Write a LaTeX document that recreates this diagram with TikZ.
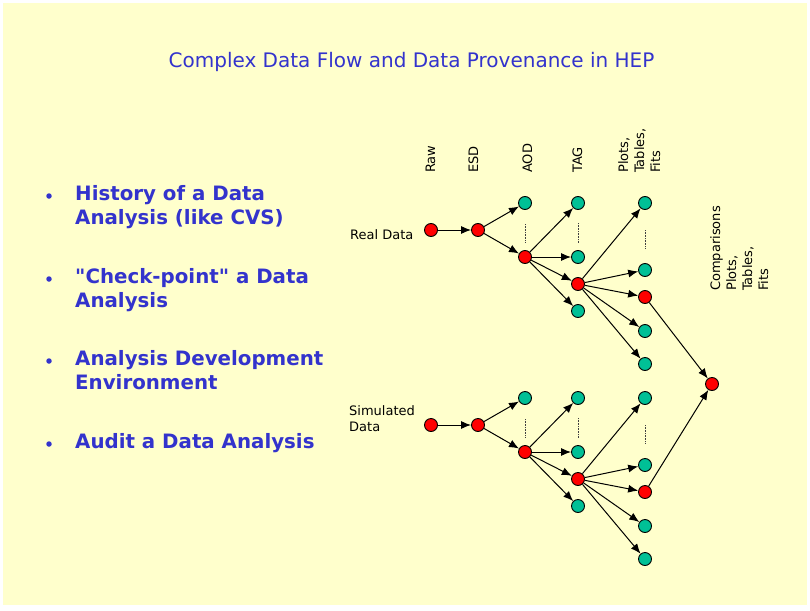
\documentclass[tikz,border=0pt]{standalone}
\usepackage{fontspec}
\setmainfont{DejaVu Sans}[Ligatures=TeXOff]
\usetikzlibrary{arrows.meta}
\definecolor{bgyellow}{RGB}{255,255,204}
\definecolor{txtblue}{RGB}{51,51,204}
\definecolor{nodegreen}{RGB}{0,192,150}
\definecolor{nodered}{RGB}{255,0,0}
\begin{document}
\begin{tikzpicture}[x=1pt,y=-1pt,
  dotnode/.style={circle,draw=black,line width=0.9pt,minimum size=13pt,inner sep=0pt},
  rdot/.style={dotnode,fill=nodered},
  gdot/.style={dotnode,fill=nodegreen},
  flow/.style={-{Latex[length=10pt,width=8pt]},line width=1pt},
  gap/.style={line width=0.7pt,dash pattern=on 0.7pt off 0.9pt,black!75},
  lab/.style={font=\fontsize{13}{16}\selectfont,inner sep=0pt,anchor=base west},
  vlab/.style={lab,rotate=90},
  itemtext/.style={font=\fontsize{19.8}{24}\selectfont\bfseries,text=txtblue,inner sep=0pt,anchor=base west},
  bul/.style={circle,fill=txtblue,inner sep=0pt,minimum size=5.5pt},
]
\fill[white] (0,0) rectangle (810,610);
\fill[bgyellow] (3,3) rectangle (807,605);
\useasboundingbox (0,0) rectangle (810,610);

% title
\node[font=\fontsize{20}{24}\selectfont,text=txtblue,inner sep=0pt,anchor=base] (title) at (411.5,67) {Complex Data Flow and Data Provenance in HEP};

% bullet list
\node[bul] (b1) at (49,196) {};
\node[itemtext] (i1a) at (75,200) {History of a Data};
\node[itemtext] (i1b) at (75,224) {Analysis (like CVS)};
\node[bul] (b2) at (49,279) {};
\node[itemtext] (i2a) at (75,283) {"Check-point" a Data};
\node[itemtext] (i2b) at (75,307) {Analysis};
\node[bul] (b3) at (49,361) {};
\node[itemtext] (i3a) at (75,365) {Analysis Development};
\node[itemtext] (i3b) at (75,389) {Environment};
\node[bul] (b4) at (49,444) {};
\node[itemtext] (i4a) at (75,448) {Audit a Data Analysis};

% column headers
\node[vlab] (hraw) at (435,173) {Raw};
\node[vlab] (hesd) at (478,173) {ESD};
\node[vlab] (haod) at (532,173) {AOD};
\node[vlab] (htag) at (582,173) {TAG};
\node[vlab] (hpl1) at (628,173) {Plots,};
\node[vlab] (hpl2) at (644,173) {Tables,};
\node[vlab] (hpl3) at (660,173) {Fits};

\node[vlab] (hc1) at (720,291) {Comparisons};
\node[vlab] (hc2) at (736,291) {Plots,};
\node[vlab] (hc3) at (752,291) {Tables,};
\node[vlab] (hc4) at (768,291) {Fits};

% row labels
\node[lab] (lreal) at (350,239) {Real Data};
\node[lab] (lsim1) at (349,415) {Simulated};
\node[lab] (lsim2) at (349,431) {Data};

% comparison node
\node[rdot] (comp) at (712,384) {};

\foreach \p/\d in {t/0,b/195} {
  \node[rdot] (\p raw) at (431,230+\d) {};
  \node[rdot] (\p esd) at (478,230+\d) {};
  \node[gdot] (\p aodg) at (525,203+\d) {};
  \node[rdot] (\p aodr) at (525,257+\d) {};
  \node[gdot] (\p tagga) at (578,203+\d) {};
  \node[gdot] (\p taggb) at (578,257+\d) {};
  \node[rdot] (\p tagr) at (578,284+\d) {};
  \node[gdot] (\p taggc) at (578,311+\d) {};
  \node[gdot] (\p plga) at (645,203+\d) {};
  \node[gdot] (\p plgb) at (645,270+\d) {};
  \node[rdot] (\p plr) at (645,297+\d) {};
  \node[gdot] (\p plgc) at (645,331+\d) {};
  \node[gdot] (\p plgd) at (645,364+\d) {};

  \draw[flow] (\p raw) -- (\p esd);
  \draw[flow] (\p esd) -- (\p aodg);
  \draw[flow] (\p esd) -- (\p aodr);
  \draw[flow] (\p aodr) -- (\p tagga);
  \draw[flow] (\p aodr) -- (\p taggb);
  \draw[flow] (\p aodr) -- (\p tagr);
  \draw[flow] (\p aodr) -- (\p taggc);
  \draw[flow] (\p tagr) -- (\p plga);
  \draw[flow] (\p tagr) -- (\p plgb);
  \draw[flow] (\p tagr) -- (\p plr);
  \draw[flow] (\p tagr) -- (\p plgc);
  \draw[flow] (\p tagr) -- (\p plgd);
  \draw[flow] (\p plr) -- (comp);

  \draw[gap] (525,224+\d) -- (525,243+\d);
  \draw[gap] (578,223+\d) -- (578,243+\d);
  \draw[gap] (645,230+\d) -- (645,248+\d);
}
\end{tikzpicture}
\end{document}
